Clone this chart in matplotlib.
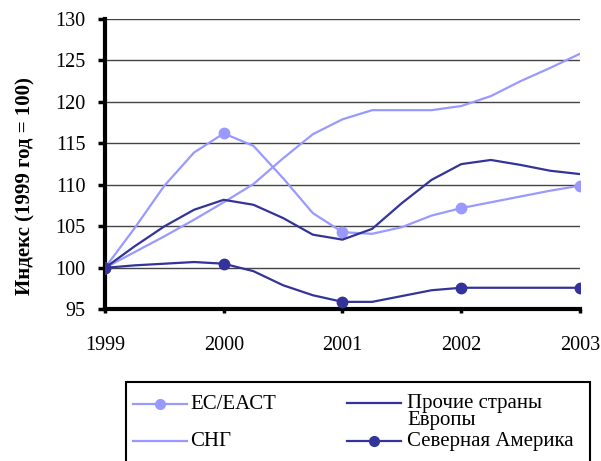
import matplotlib.pyplot as plt
from matplotlib.lines import Line2D
from matplotlib.patches import Rectangle

plt.rcParams["font.family"] = ["Liberation Serif", "DejaVu Serif"]

# quarterly readings (index, 1999 = 100)
years_q = [1999.0, 1999.25, 1999.5, 1999.75, 2000.0, 2000.25, 2000.5, 2000.75,
           2001.0, 2001.25, 2001.5, 2001.75, 2002.0, 2002.25, 2002.5, 2002.75, 2003.0]

es_eact = [100.0, 104.8, 109.9, 113.9, 116.2, 114.7, 110.8, 106.6,
           104.3, 104.1, 104.9, 106.3, 107.2, 107.9, 108.6, 109.3, 109.9]
sng = [100.0, 101.9, 103.8, 105.8, 107.9, 110.1, 113.2, 116.1,
       117.9, 119.0, 119.0, 119.0, 119.5, 120.7, 122.5, 124.1, 125.8]
prochie = [100.0, 102.6, 105.0, 107.0, 108.2, 107.6, 106.0, 104.0,
           103.4, 104.7, 107.8, 110.6, 112.5, 113.0, 112.4, 111.7, 111.3]
sev_amer = [100.0, 100.3, 100.5, 100.7, 100.5, 99.6, 97.9, 96.7,
            95.9, 95.9, 96.6, 97.3, 97.6, 97.6, 97.6, 97.6, 97.6]

year_ticks = [1999, 2000, 2001, 2002, 2003]
y_ticks = [95, 100, 105, 110, 115, 120, 125, 130]

LIGHT = "#9999FF"
DARK = "#333399"
W, H = 601, 461

fig = plt.figure(figsize=(W / 100, H / 100), dpi=100)
ax = fig.add_axes([0.1747, 0.329, 0.7903, 0.63])

marks = [0, 4, 8, 12, 16]
ax.plot(years_q, es_eact, color=LIGHT, lw=1.6, marker="o", ms=7.5,
        markevery=marks, zorder=3)
ax.plot(years_q, sng, color=LIGHT, lw=1.6, zorder=3)
ax.plot(years_q, prochie, color=DARK, lw=1.6, zorder=3)
ax.plot(years_q, sev_amer, color=DARK, lw=1.6, marker="o", ms=7.5,
        markevery=marks, zorder=3)

ax.set_xlim(1999, 2003)
ax.set_ylim(95, 130)
ax.set_xticks(year_ticks)
ax.set_yticks(y_ticks)
ax.tick_params(axis="both", labelsize=14.5, width=2.5, direction="out")
ax.tick_params(axis="y", length=5, pad=9)
ax.tick_params(axis="x", length=3, pad=16)
ax.grid(axis="y", color="#444444", lw=1)
ax.set_axisbelow(True)
for side in ["top", "right"]:
    ax.spines[side].set_visible(False)
for side in ["left", "bottom"]:
    ax.spines[side].set_linewidth(3)

ax.set_ylabel("Индекс (1999 год = 100)", fontsize=15, fontweight="bold")
ax.yaxis.set_label_coords(-0.146, 0.424)

# legend drawn by hand so that rows line up like the original
fig.add_artist(Rectangle((126 / W, -0.05), 464 / W, 0.05 + 1 - 382 / H,
                         transform=fig.transFigure, fill=False,
                         edgecolor="black", lw=1.5))


def legend_entry(x0, y, color, marker, label, gap):
    fy = 1 - y / H
    fig.add_artist(Line2D([x0 / W, (x0 + 54) / W], [fy, fy],
                          transform=fig.transFigure, color=color, lw=1.6))
    if marker:
        fig.add_artist(Line2D([(x0 + 27) / W], [fy], transform=fig.transFigure,
                              color=color, marker="o", ms=7))
    fig.text((x0 + gap) / W, fy, label, fontsize=15, va="center", ha="left",
             linespacing=0.82)


legend_entry(133, 404, LIGHT, True, "ЕС/ЕАСТ", 57)
legend_entry(133, 441, LIGHT, False, "СНГ", 57)
legend_entry(347, 403, DARK, False, "", 60)
fig.text(407 / W, 1 - 412 / H, "Прочие страны\nЕвропы", fontsize=15,
         va="center", ha="left", linespacing=0.82)
legend_entry(347, 441, DARK, True, "Северная Америка", 60)

fig.savefig("out.png", dpi=100)
